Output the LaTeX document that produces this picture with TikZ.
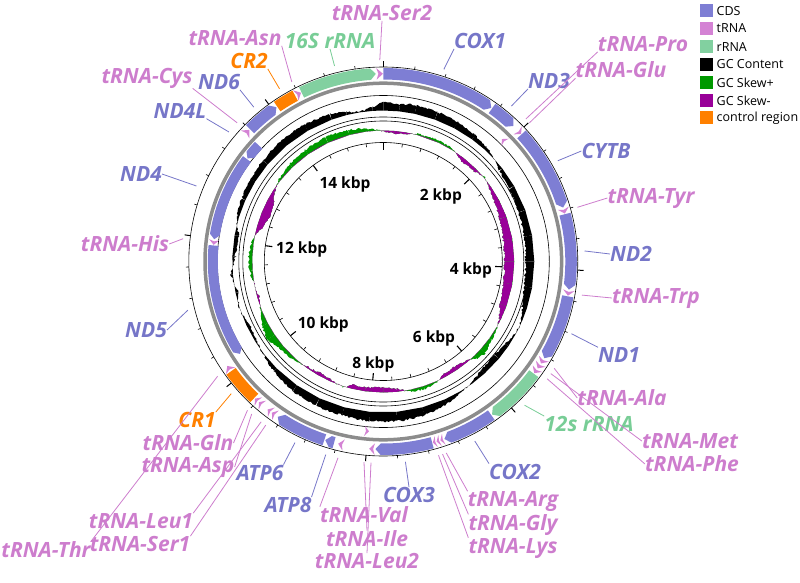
\documentclass[tikz,border=0pt]{standalone}
\usepackage{fontspec}
\setmainfont{Open Sans}
\newfontfamily\LblFont{Open Sans}
\usetikzlibrary{calc}

\definecolor{cds}{RGB}{126,126,212}
\definecolor{trna}{RGB}{212,130,212}
\definecolor{rrna}{RGB}{130,208,160}
\definecolor{skewp}{RGB}{0,153,0}
\definecolor{skewm}{RGB}{153,0,153}
\definecolor{ctrl}{RGB}{255,128,0}
\definecolor{bbone}{RGB}{140,140,140}
\definecolor{cdsl}{RGB}{118,118,200}
\definecolor{trnal}{RGB}{205,125,205}
\definecolor{rrnal}{RGB}{120,205,150}

% band radii
\newcommand{\FwIn}{182pt}
\newcommand{\FwOut}{193.5pt}
\newcommand{\FwMid}{187.75pt}
\newcommand{\RvIn}{165.5pt}
\newcommand{\RvOut}{175.5pt}
\newcommand{\RvMid}{170.5pt}
\newcommand{\HeadDeg}{1.6}
\newcommand{\GcBase}{151}
\newcommand{\SkBase}{131}

% forward feature with arrow head at the clockwise end (angles clockwise from top)
\newcommand{\FwArrow}[3]{%
  \pgfmathsetmacro{\aA}{90-#2}%
  \pgfmathsetmacro{\aB}{90-#3+\HeadDeg}%
  \pgfmathsetmacro{\aC}{90-#3}%
  \fill[#1] plot[domain=\aA:\aB,samples=30,variable=\u] (\u:\FwOut) -- (\aC:\FwMid)
    -- plot[domain=\aB:\aA,samples=30,variable=\u] (\u:\FwIn) -- cycle;}
% reverse feature with arrow head at the anticlockwise end
\newcommand{\RvArrow}[3]{%
  \pgfmathsetmacro{\aA}{90-#2-\HeadDeg}%
  \pgfmathsetmacro{\aB}{90-#3}%
  \pgfmathsetmacro{\aC}{90-#2}%
  \fill[#1] (\aC:\RvMid) -- plot[domain=\aA:\aB,samples=30,variable=\u] (\u:\RvOut)
    -- plot[domain=\aB:\aA,samples=30,variable=\u] (\u:\RvIn) -- cycle;}
% plain block (control regions)
\newcommand{\FwBlock}[3]{%
  \pgfmathsetmacro{\aA}{90-#2}%
  \pgfmathsetmacro{\aB}{90-#3}%
  \fill[#1] plot[domain=\aA:\aB,samples=20,variable=\u] (\u:\FwOut)
    -- plot[domain=\aB:\aA,samples=20,variable=\u] (\u:\FwIn) -- cycle;}
% short features drawn as darts
\newcommand{\FwDart}[3]{%
  \pgfmathsetmacro{\aA}{90-#2}%
  \pgfmathsetmacro{\aC}{90-#3}%
  \pgfmathsetmacro{\aN}{90-#2-0.3*(#3-#2)}%
  \fill[#1] (\aA:\FwOut) -- (\aC:\FwMid) -- (\aA:\FwIn) -- (\aN:\FwMid) -- cycle;}
\newcommand{\RvDart}[3]{%
  \pgfmathsetmacro{\aA}{90-#2}%
  \pgfmathsetmacro{\aC}{90-#3}%
  \pgfmathsetmacro{\aN}{90-#3+0.3*(#3-#2)}%
  \fill[#1] (\aC:\RvOut) -- (\aA:\RvMid) -- (\aC:\RvIn) -- (\aN:\RvMid) -- cycle;}

\tikzset{
  lbl/.style={font=\LblFont\bfseries\itshape\fontsize{21}{23}\selectfont, inner sep=0pt},
  lcds/.style={lbl, text=cdsl},
  ltr/.style={lbl, text=trnal},
  lrr/.style={lbl, text=rrnal},
  lcr/.style={lbl, text=ctrl},
  kbp/.style={font=\bfseries\fontsize{15.5}{17}\selectfont, inner sep=0pt},
  conn/.style={line width=0.8pt},
  ringline/.style={line width=0.6pt, black},
  legsq/.style={minimum size=13pt, inner sep=0pt},
  legtx/.style={font=\fontsize{12.5}{14}\selectfont, inner sep=0pt, anchor=west},
}

\begin{document}
\begin{tikzpicture}[x=1pt,y=-1pt]
\useasboundingbox (0,0) rectangle (800,583);

\begin{scope}[shift={(383.3,261.5)}]
  % track outlines
  \foreach \r in {194.5,166,144.5,140.5,119}
    \draw[ringline] (0,0) circle[radius=\r pt];

  % scale ticks every 400 bp, long ticks every 2 kbp
  \foreach \k in {0,...,38} {
    \pgfmathsetmacro{\tk}{90-\k*9.2545}
    \pgfmathtruncatemacro{\mj}{mod(\k,5)==0}
    \ifnum\mj=1
      \draw[line width=1pt] (\tk:194.5pt) -- (\tk:200.5pt);
      \draw[line width=1.1pt] (\tk:119pt) -- (\tk:112pt);
    \else
      \draw[line width=0.6pt] (\tk:194.5pt) -- (\tk:197.5pt);
      \draw[line width=0.6pt] (\tk:119pt) -- (\tk:115.5pt);
    \fi
  }

  % GC content
  \pgfmathsetseed{7}
  \foreach \gB/\vB [remember=\gB as \gA (initially 0), remember=\vB as \vA (initially 8)] in
    {6/7, 12/9, 20/8, 28/7, 36/5, 42/3, 47/0, 52/-4, 60/-6, 70/-7, 80/-8, 90/-9, 100/-8,
     108/-5, 113/-1, 118/0, 124/-4, 130/-6, 138/-5, 144/-1, 149/1, 156/5, 165/8, 175/9,
     185/9, 195/8, 205/8, 215/7, 225/4, 232/1, 238/-2, 245/-3, 252/1, 258/-3, 265/2,
     272/-3, 280/-4, 287/2, 294/4, 302/5, 310/6, 320/7, 330/7, 340/6, 346/3, 351/0,
     356/4, 360/8} {
    \pgfmathtruncatemacro{\ns}{(\gB-\gA)*1.6+1}
    \fill[black] plot[domain=\gA:\gB, samples=\ns, variable=\u]
      ({90-\u}:{(\GcBase+\vA+(\vB-\vA)*(\u-\gA)/(\gB-\gA)+1.1*rand)*1pt})
      -- ({90-\gB}:{\GcBase*1pt}) -- ({90-\gA}:{\GcBase*1pt}) -- cycle;
  }

  % GC skew: whole trace in green, then the part inside the base line in purple
  \pgfmathsetseed{11}
  \foreach \gB/\vB [remember=\gB as \gA (initially 0), remember=\vB as \vA (initially -1)] in
    {5/-3, 10/-2, 15/1, 25/2, 32/1, 38/-4, 45/-3, 50/1, 55/-2, 62/-5, 70/-7, 80/-9,
     90/-10, 100/-9, 110/-7, 116/-2, 120/1, 126/3, 132/6, 136/4, 140/-2, 146/-4, 152/-3,
     156/1, 162/3, 168/2, 174/-3, 180/-5, 188/-4, 194/-4, 198/1, 204/-2, 210/-3, 216/-1,
     222/2, 230/4, 236/9, 242/6, 248/1, 254/-2, 260/0, 266/3, 272/4, 278/2, 282/-1,
     286/-6, 292/-9, 298/-7, 303/-2, 308/2, 316/4, 325/5, 335/6, 345/5, 352/3, 357/1,
     360/-1} {
    \pgfmathtruncatemacro{\ns}{(\gB-\gA)*1.6+1}
    \fill[skewp] plot[domain=\gA:\gB, samples=\ns, variable=\u]
      ({90-\u}:{(\SkBase+\vA+(\vB-\vA)*(\u-\gA)/(\gB-\gA)+1.0*rand)*1pt})
      -- ({90-\gB}:{\SkBase*1pt}) -- ({90-\gA}:{\SkBase*1pt}) -- cycle;
  }
  \begin{scope}
    \clip (0,0) circle[radius=\SkBase pt];
    \pgfmathsetseed{11}
    \foreach \gB/\vB [remember=\gB as \gA (initially 0), remember=\vB as \vA (initially -1)] in
      {5/-3, 10/-2, 15/1, 25/2, 32/1, 38/-4, 45/-3, 50/1, 55/-2, 62/-5, 70/-7, 80/-9,
       90/-10, 100/-9, 110/-7, 116/-2, 120/1, 126/3, 132/6, 136/4, 140/-2, 146/-4, 152/-3,
       156/1, 162/3, 168/2, 174/-3, 180/-5, 188/-4, 194/-4, 198/1, 204/-2, 210/-3, 216/-1,
       222/2, 230/4, 236/9, 242/6, 248/1, 254/-2, 260/0, 266/3, 272/4, 278/2, 282/-1,
       286/-6, 292/-9, 298/-7, 303/-2, 308/2, 316/4, 325/5, 335/6, 345/5, 352/3, 357/1,
       360/-1} {
      \pgfmathtruncatemacro{\ns}{(\gB-\gA)*1.6+1}
      \fill[skewm] plot[domain=\gA:\gB, samples=\ns, variable=\u]
        ({90-\u}:{(\SkBase+\vA+(\vB-\vA)*(\u-\gA)/(\gB-\gA)+1.0*rand)*1pt})
        -- ({90-\gB}:{\SkBase*1pt}) -- ({90-\gA}:{\SkBase*1pt}) -- cycle;
    }
  \end{scope}

  % backbone
  \draw[bbone, line width=3.5pt] (0,0) circle[radius=178.3pt];

  % forward strand
  \FwDart{trna}{357.9}{359.9}   % tRNA-Ser2
  \FwArrow{cds}{0}{35.1}         % COX1
  \FwArrow{cds}{35.4}{43.8}      % ND3
  \FwDart{trna}{45.7}{47.2}     % tRNA-Glu
  \FwArrow{cds}{47.4}{73.3}      % CYTB
  \FwDart{trna}{73.5}{75.2}     % tRNA-Tyr
  \FwArrow{cds}{75.4}{98.6}      % ND2
  \FwDart{trna}{98.8}{100.5}    % tRNA-Trp
  \FwArrow{cds}{100.7}{121}      % ND1
  \FwDart{trna}{121.2}{122.9}   % tRNA-Ala
  \FwDart{trna}{123.0}{124.7}   % tRNA-Met
  \FwDart{trna}{124.8}{126.5}   % tRNA-Phe
  \FwArrow{rrna}{126.7}{144.6}   % 12S rRNA
  \FwArrow{cds}{144.9}{161.0}    % COX2
  \FwDart{trna}{161.2}{162.3}   % tRNA-Arg
  \FwDart{trna}{162.4}{163.5}   % tRNA-Gly
  \FwDart{trna}{163.6}{164.7}   % tRNA-Lys
  \FwArrow{cds}{164.9}{182.4}    % COX3
  \FwDart{trna}{182.6}{184.3}   % tRNA-Leu2
  \FwDart{trna}{192.2}{193.9}   % tRNA-Val
  \FwArrow{cds}{195.2}{198.0}    % ATP8
  \FwArrow{cds}{198.3}{214.2}    % ATP6
  \FwDart{trna}{215.0}{216.4}   % tRNA-Ser1
  \FwDart{trna}{216.6}{218.0}   % tRNA-Leu1
  \FwDart{trna}{220.1}{221.5}   % tRNA-Asp
  \FwDart{trna}{221.7}{223.1}   % tRNA-Gln
  \FwBlock{ctrl}{223.4}{234.2}   % CR1
  \FwDart{trna}{234.4}{236.2}   % tRNA-Thr
  \FwDart{trna}{312.6}{314.5}   % tRNA-Cys
  \FwArrow{cds}{314.8}{325.3}    % ND6
  \FwBlock{ctrl}{325.6}{332.0}   % CR2
  \FwDart{trna}{332.2}{334.0}   % tRNA-Asn
  \FwArrow{rrna}{334.2}{357.7}   % 16S rRNA

  % reverse strand
  \RvDart{trna}{44.1}{45.6}     % tRNA-Pro
  \RvDart{trna}{184.8}{186.3}   % tRNA-Ile
  \RvArrow{cds}{237.2}{275.4}    % ND5
  \RvDart{trna}{275.6}{277.3}   % tRNA-His
  \RvArrow{cds}{277.5}{306.9}    % ND4
  \RvArrow{cds}{307.2}{313.0}    % ND4L

  % label anchor points just outside the scale
  \foreach \nm/\th in {Ser2/359, 16S/346, COX1/17.5, Pro/45, ND3/39.5, Glu/46.5,
      CYTB/60, Tyr/74.4, ND2/87, Trp/99.6, ND1/111, Ala/122, Met/123.8, Phe/125.6,
      12S/135.5, COX2/153, Arg/161.8, Gly/162.9, Lys/164.1, COX3/173.7, Leu2/183.5,
      Ile/185.5, Val/193, ATP8/196.6, ATP6/206, Ser1/215.7, Leu1/217.3, Asp/220.8,
      Gln/222.4, CR1/229, Thr/235.3, ND5/256, His/276.5, ND4/292, ND4L/310, Cys/313.5,
      ND6/320, CR2/329, Asn/333}
    \coordinate (r\nm) at ({90-\th}:201.5pt);
\end{scope}

% scale labels
\node[kbp] (k2)  at (440.8,196.7) {2 kbp};
\node[kbp] (k4)  at (470.8,270)   {4 kbp};
\node[kbp] (k6)  at (434,338.3)   {6 kbp};
\node[kbp] (k8)  at (373.3,364)   {8 kbp};
\node[kbp] (k10) at (323.3,324)   {10 kbp};
\node[kbp] (k12) at (301.7,249)   {12 kbp};
\node[kbp] (k14) at (345,184)     {14 kbp};

% feature labels
\node[ltr]  (lSer2) at (382,13)    {tRNA-Ser2};
\node[lrr]  (l16S)  at (330,41)    {16S rRNA};
\node[lcds] (lCOX1) at (480,41)    {COX1};
\node[ltr]  (lPro)  at (643,44)    {tRNA-Pro};
\node[lcds] (lND3)  at (549,81)    {ND3};
\node[ltr]  (lGlu)  at (621,70)    {tRNA-Glu};
\node[lcds] (lCYTB) at (606,151)   {CYTB};
\node[ltr]  (lTyr)  at (651,198)   {tRNA-Tyr};
\node[lcds] (lND2)  at (631,254)   {ND2};
\node[ltr]  (lTrp)  at (656,298)   {tRNA-Trp};
\node[lcds] (lND1)  at (619,355)   {ND1};
\node[ltr]  (lAla)  at (622,398)   {tRNA-Ala};
\node[lrr]  (l12S)  at (589,424)   {12s rRNA};
\node[ltr]  (lMet)  at (690,441)   {tRNA-Met};
\node[ltr]  (lPhe)  at (692,464)   {tRNA-Phe};
\node[lcds] (lCOX2) at (515,471.5) {COX2};
\node[ltr]  (lArg)  at (513,501.5) {tRNA-Arg};
\node[ltr]  (lGly)  at (513,525)   {tRNA-Gly};
\node[ltr]  (lLys)  at (513,548)   {tRNA-Lys};
\node[lcds] (lCOX3) at (409,495)   {COX3};
\node[ltr]  (lVal)  at (364,515)   {tRNA-Val};
\node[ltr]  (lIle)  at (367,539)   {tRNA-Ile};
\node[ltr]  (lLeu2) at (367,561)   {tRNA-Leu2};
\node[lcds] (lATP8) at (288,505)   {ATP8};
\node[lcds] (lATP6) at (260,472.5) {ATP6};
\node[ltr]  (lSer1) at (140,544)   {tRNA-Ser1};
\node[ltr]  (lLeu1) at (141,521)   {tRNA-Leu1};
\node[ltr]  (lAsp)  at (188,467)   {tRNA-Asp};
\node[ltr]  (lGln)  at (188,443)   {tRNA-Gln};
\node[lcr]  (lCR1)  at (197,420)   {CR1};
\node[ltr]  (lThr)  at (46,550)    {tRNA-Thr};
\node[lcds] (lND5)  at (146,330)   {ND5};
\node[ltr]  (lHis)  at (125,244)   {tRNA-His};
\node[lcds] (lND4)  at (141,174)   {ND4};
\node[lcds] (lND4L) at (180,111)   {ND4L};
\node[ltr]  (lCys)  at (147,78)    {tRNA-Cys};
\node[lcds] (lND6)  at (219,82)    {ND6};
\node[lcr]  (lCR2)  at (249,61)    {CR2};
\node[ltr]  (lAsn)  at (235,38)    {tRNA-Asn};

% connectors
\draw[conn, trnal] (lSer2.south) -- (rSer2);
\draw[conn, rrnal] (l16S.south) -- (r16S);
\draw[conn, cdsl]  (lCOX1.south west) -- (rCOX1);
\draw[conn, trnal] (lPro.south west) -- (rPro);
\draw[conn, cdsl]  (lND3.south west) -- (rND3);
\draw[conn, trnal] (lGlu.south west) -- (rGlu);
\draw[conn, cdsl]  (lCYTB.west) -- (rCYTB);
\draw[conn, trnal] (lTyr.west) -- (rTyr);
\draw[conn, cdsl]  (lND2.west) -- (rND2);
\draw[conn, trnal] (lTrp.west) -- (rTrp);
\draw[conn, cdsl]  (lND1.north west) -- (rND1);
\draw[conn, trnal] (lAla.west) -- (rAla);
\draw[conn, rrnal] (l12S.north west) -- (r12S);
\draw[conn, trnal] (lMet.west) -- (rMet);
\draw[conn, trnal] (lPhe.west) -- (rPhe);
\draw[conn, cdsl]  (lCOX2.north west) -- (rCOX2);
\draw[conn, trnal] (lArg.north west) -- (rArg);
\draw[conn, trnal] (lGly.north west) -- (rGly);
\draw[conn, trnal] (lLys.north west) -- (rLys);
\draw[conn, cdsl]  (lCOX3.north) -- (rCOX3);
\draw[conn, trnal] (lVal.north west) -- (rVal);
\draw[conn, trnal] (lIle.north) -- (rIle);
\draw[conn, trnal] (lLeu2.north) -- (rLeu2);
\draw[conn, cdsl]  (lATP8.north east) -- (rATP8);
\draw[conn, cdsl]  (lATP6.north east) -- (rATP6);
\draw[conn, trnal] (lSer1.north east) -- (rSer1);
\draw[conn, trnal] (lLeu1.north east) -- (rLeu1);
\draw[conn, trnal] (lAsp.east) -- (rAsp);
\draw[conn, trnal] (lGln.east) -- (rGln);
\draw[conn, ctrl]  (lCR1.north east) -- (rCR1);
\draw[conn, trnal] (lThr.north east) -- (rThr);
\draw[conn, cdsl]  (lND5.east) -- (rND5);
\draw[conn, trnal] (lHis.east) -- (rHis);
\draw[conn, cdsl]  (lND4.east) -- (rND4);
\draw[conn, cdsl]  (lND4L.south east) -- (rND4L);
\draw[conn, trnal] (lCys.south east) -- (rCys);
\draw[conn, cdsl]  (lND6.south east) -- (rND6);
\draw[conn, ctrl]  (lCR2.south east) -- (rCR2);
\draw[conn, trnal] (lAsn.south east) -- (rAsn);

% legend
\foreach \nm/\col/\txt/\yy in {CDS/cds/CDS/11, tRNA/trna/tRNA/28.5, rRNA/rrna/rRNA/47,
    GCc/black/GC Content/64.5, GCp/skewp/GC Skew+/82.5, GCm/skewm/GC Skew-/100.5,
    CR/ctrl/control region/118} {
  \node[legsq, fill=\col] (sq\nm) at (706.5,\yy) {};
  \node[legtx] (tx\nm) at (716.5,\yy) {\txt};
}
\end{tikzpicture}
\end{document}
